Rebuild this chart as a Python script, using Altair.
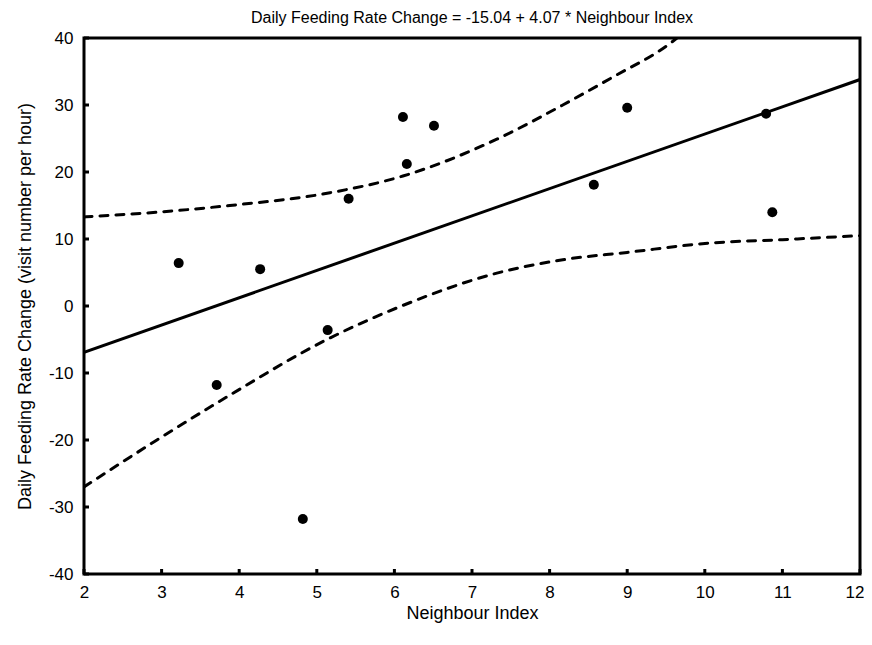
import altair as alt
import pandas as pd

# Observed data points
neighbour_index = [3.22, 3.71, 4.27, 4.82, 5.14, 5.41, 6.11, 6.16, 6.51, 8.57, 9.0, 10.79, 10.87]
feeding_change = [6.4, -11.8, 5.5, -31.8, -3.6, 16.0, 28.2, 21.2, 26.9, 18.1, 29.6, 28.7, 14.0]

# Regression line endpoints (y = -15.04 + 4.07 x)
reg_x = [2, 12]
reg_y = [-6.90, 33.80]

# Confidence bands
upper_x = [2.0, 2.94, 3.88, 5.17, 6.11, 7.32, 8.17, 8.82, 9.53, 9.75]
upper_y = [13.3, 14.0, 15.0, 16.9, 19.4, 24.9, 30.0, 34.2, 39.0, 41.0]
lower_x = [2.0, 2.94, 3.88, 5.13, 6.07, 7.32, 8.17, 9.0, 10.07, 11.0, 12.0]
lower_y = [-27.0, -20.0, -13.3, -5.0, -0.1, 4.9, 6.9, 8.0, 9.4, 9.9, 10.5]

x_ticks = [2, 3, 4, 5, 6, 7, 8, 9, 10, 11, 12]
y_ticks = [-40, -30, -20, -10, 0, 10, 20, 30, 40]

W, H = 776, 536
FONT = "Liberation Sans"

pts = pd.DataFrame({"x": neighbour_index, "y": feeding_change})
reg = pd.DataFrame({"x": reg_x, "y": reg_y})
band = pd.concat([
    pd.DataFrame({"x": upper_x, "y": upper_y, "band": "upper"}),
    pd.DataFrame({"x": lower_x, "y": lower_y, "band": "lower"}),
])

xs = alt.Scale(domain=[2, 12], nice=False, zero=False)
ys = alt.Scale(domain=[-40, 40], nice=False, zero=False)

lbl = "'' + datum.value"

xax = alt.Axis(values=x_ticks, title="Neighbour Index", grid=False, ticks=False, domain=False,
               labelExpr=lbl, labelFlush=False, labelOverlap=False,
               labelAlign=alt.condition("datum.value == 12", alt.value("right"), alt.value("center")),
               labelOffset=alt.condition("datum.value == 12", alt.value(4), alt.value(0)),
               labelFontSize=17, labelPadding=10, titleFontSize=18, titlePadding=4,
               labelFont=FONT, titleFont=FONT, titleFontWeight="normal",
               labelColor="black", titleColor="black")
yax = alt.Axis(values=y_ticks, title="Daily Feeding Rate Change (visit number per hour)", grid=False,
               ticks=False, domain=False, labelExpr=lbl, labelFlush=False, labelOverlap=False,
               labelFontSize=17, labelPadding=11, titleFontSize=18,
               titlePadding=14, labelFont=FONT, titleFont=FONT,
               titleFontWeight="normal", labelColor="black", titleColor="black")

points = alt.Chart(pts).mark_circle(size=100, color="black", opacity=1).encode(
    x=alt.X("x:Q", scale=xs, axis=xax),
    y=alt.Y("y:Q", scale=ys, axis=yax),
)

reg_line = alt.Chart(reg).mark_line(color="black", strokeWidth=3, clip=True).encode(
    x=alt.X("x:Q", scale=xs), y=alt.Y("y:Q", scale=ys)
)

band_lines = alt.Chart(band).mark_line(color="black", strokeWidth=3, strokeDash=[8, 8],
                                         strokeCap="round", interpolate="monotone", clip=True).encode(
    x=alt.X("x:Q", scale=xs), y=alt.Y("y:Q", scale=ys), detail="band:N"
)

xt = alt.Chart(pd.DataFrame({"x": x_ticks})).mark_rule(color="black", strokeWidth=3).encode(
    x=alt.X("x:Q", scale=xs), y=alt.value(H), y2=alt.value(H - 5)
)
yt = alt.Chart(pd.DataFrame({"y": y_ticks})).mark_rule(color="black", strokeWidth=3).encode(
    y=alt.Y("y:Q", scale=ys), x=alt.value(0), x2=alt.value(5)
)

chart = alt.layer(band_lines, reg_line, xt, yt, points).properties(
    width=W, height=H,
    title=alt.TitleParams("Daily Feeding Rate Change = -15.04 + 4.07 * Neighbour Index",
                          font=FONT, fontSize=16, fontWeight="normal",
                          color="black", anchor="middle", offset=3),
    autosize=alt.AutoSizeParams(type="none"),
    padding={"left": 76, "top": 30, "right": 4, "bottom": 63},
).configure_view(stroke="black", strokeWidth=3)

chart.save("out.html", embed_options={"renderer": "svg", "actions": False})
